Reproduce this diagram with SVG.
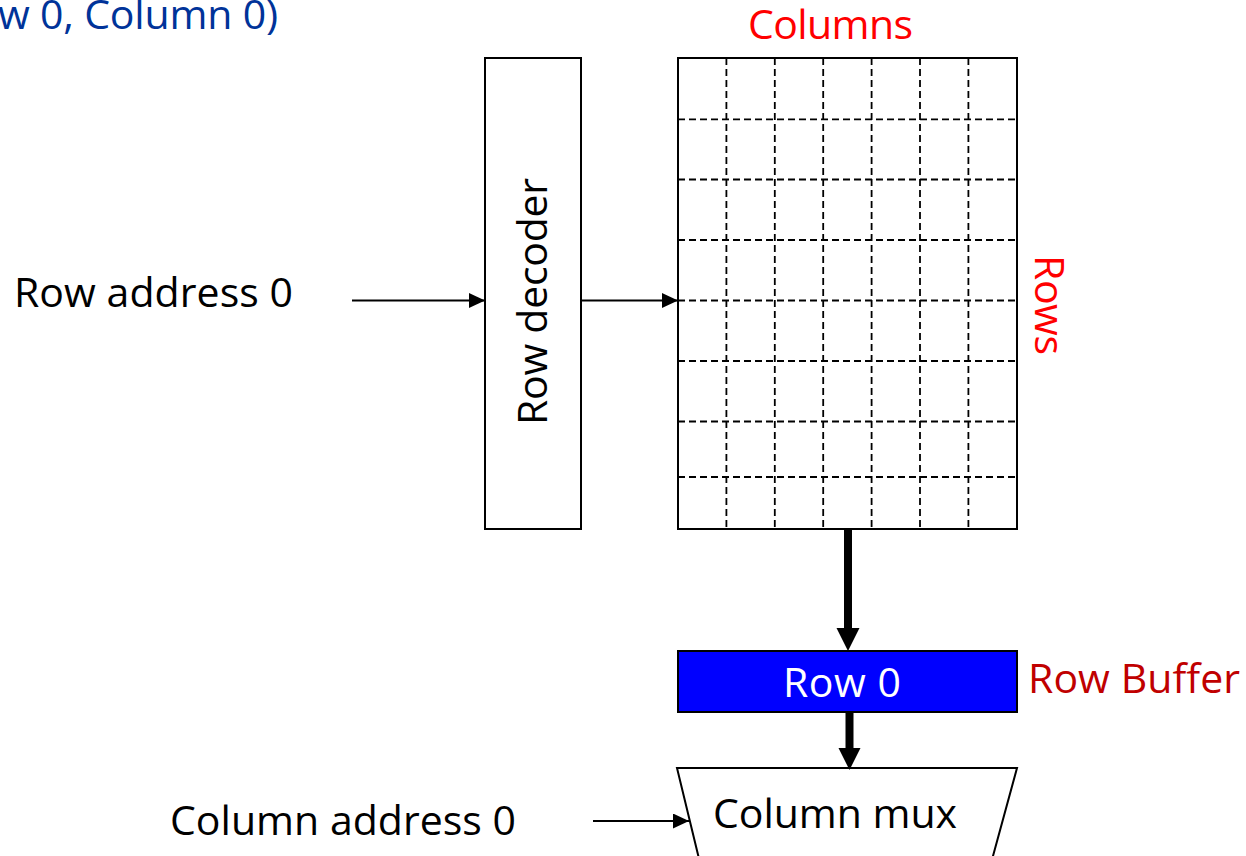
<svg xmlns="http://www.w3.org/2000/svg" width="1246" height="856" viewBox="0 0 1246 856">
  <style>
    text { font-family: "Open Sans", "Noto Sans", sans-serif; font-size: 41px; }
    .blk { fill: #000; }
    .red { fill: #ff0000; }
    .dred { fill: #c00000; }
    .blue { fill: #003399; }
    .box { fill: #fff; stroke: #000; stroke-width: 2; }
    .grid { stroke: #000; stroke-width: 1.8; stroke-dasharray: 7 4; fill: none; }
    .thin { stroke: #000; stroke-width: 2; fill: none; }
    .thick { stroke: #000; stroke-width: 8; fill: none; }
  </style>
  <defs>
    <marker id="ah" markerUnits="userSpaceOnUse" markerWidth="16" markerHeight="15" refX="16" refY="7.5" orient="auto">
      <path d="M0,0 L16,7.5 L0,15 Z" fill="#000"/>
    </marker>
  </defs>

  <g id="title">
    <text class="blue" x="-2" y="29" textLength="280">w 0, Column 0)</text>
  </g>

  <g id="row-address-label">
    <text class="blk" x="14" y="307" textLength="279">Row address 0</text>
  </g>

  <g id="row-decoder">
    <rect class="box" x="485" y="58" width="96" height="471"/>
    <text class="blk" transform="translate(547,301.5) rotate(-90)" text-anchor="middle" textLength="247">Row decoder</text>
  </g>

  <g id="array">
    <rect class="box" x="678" y="58" width="339" height="471"/>
    <g class="grid">
      <line x1="726.4" y1="58" x2="726.4" y2="529"/>
      <line x1="774.8" y1="58" x2="774.8" y2="529"/>
      <line x1="823.2" y1="58" x2="823.2" y2="529"/>
      <line x1="871.6" y1="58" x2="871.6" y2="529"/>
      <line x1="920" y1="58" x2="920" y2="529"/>
      <line x1="968.4" y1="58" x2="968.4" y2="529"/>
      <line x1="678" y1="119.3" x2="1017" y2="119.3"/>
      <line x1="678" y1="179.5" x2="1017" y2="179.5"/>
      <line x1="678" y1="240" x2="1017" y2="240"/>
      <line x1="678" y1="300.5" x2="1017" y2="300.5"/>
      <line x1="678" y1="361" x2="1017" y2="361"/>
      <line x1="678" y1="421.5" x2="1017" y2="421.5"/>
      <line x1="678" y1="477" x2="1017" y2="477"/>
    </g>
    <text class="red" x="830.5" y="39" text-anchor="middle" textLength="165">Columns</text>
    <text class="red" transform="translate(1035,305) rotate(90)" text-anchor="middle" textLength="100">Rows</text>
  </g>

  <g id="row-buffer">
    <rect x="678" y="651" width="339" height="61" fill="#0000ff" stroke="#000" stroke-width="2"/>
    <text x="842" y="697" text-anchor="middle" fill="#fff" textLength="118">Row 0</text>
    <text class="dred" x="1028" y="693" textLength="212">Row Buffer</text>
  </g>

  <g id="column-mux">
    <polygon class="box" points="677,768 1017,768 981,900 709,900"/>
    <text class="blk" x="713" y="828" textLength="244">Column mux</text>
  </g>

  <g id="column-address-label">
    <text class="blk" x="170" y="835" textLength="346">Column address 0</text>
  </g>

  <g id="connectors">
    <line class="thin" x1="352" y1="300.5" x2="485" y2="300.5" marker-end="url(#ah)"/>
    <line class="thin" x1="581" y1="300.5" x2="678" y2="300.5" marker-end="url(#ah)"/>
    <line class="thin" x1="593" y1="821" x2="689" y2="821" marker-end="url(#ah)"/>
    <line class="thick" x1="848" y1="529" x2="848" y2="630"/>
    <polygon points="836.5,628 859.5,628 848,651" fill="#000"/>
    <line class="thick" x1="849.5" y1="712" x2="849.5" y2="750"/>
    <polygon points="838.5,748 860.5,748 849.5,770" fill="#000"/>
  </g>
</svg>
